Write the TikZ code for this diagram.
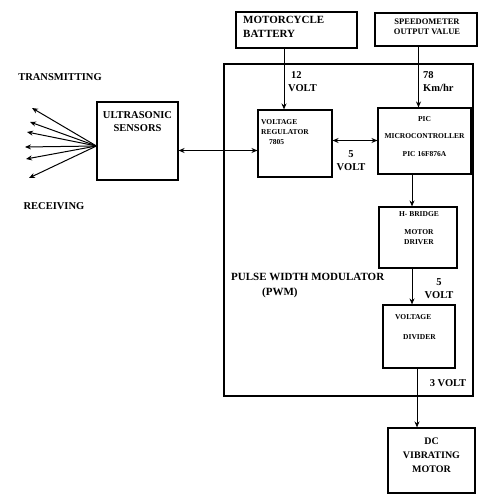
\documentclass[tikz,border=0pt]{standalone}
\usepackage{fontspec}
\setmainfont{Liberation Serif}
\usetikzlibrary{arrows.meta}

\begin{document}
\begin{tikzpicture}[x=1pt,y=-1pt,
		blk/.style={draw,line width=1.1pt,inner sep=0pt},
		arr/.style={-{Stealth[length=6pt,width=5pt]},line width=1pt},
		biarr/.style={{Stealth[length=6pt,width=5pt]}-{Stealth[length=6pt,width=5pt]},line width=1pt},
		tiny/.style={font=\bfseries\fontsize{7.5}{10}\selectfont,inner sep=0pt},
		mid/.style={font=\bfseries\fontsize{8.5}{10}\selectfont,inner sep=0pt},
		big/.style={font=\bfseries\fontsize{10.5}{13}\selectfont,inner sep=0pt}]
	\useasboundingbox (0,0) rectangle (480,497);

	% outer PWM frame
	\draw[line width=1.1pt] (224,64) rectangle (473,396);

	% blocks
	\node[blk,minimum width=121pt,minimum height=36pt] (batt) at (296.5,30) {};
	\node[blk,minimum width=102pt,minimum height=33pt] (speed) at (426,29.5) {};
	\node[blk,minimum width=81pt,minimum height=78pt] (us) at (137.5,141) {};
	\node[blk,minimum width=74pt,minimum height=67pt] (vr) at (295,143.5) {};
	\node[blk,minimum width=93pt,minimum height=66pt] (pic) at (424.5,141) {};
	\node[blk,minimum width=78pt,minimum height=61pt] (hb) at (418,237.5) {};
	\node[blk,minimum width=72pt,minimum height=63pt] (vd) at (419,336.5) {};
	\node[blk,minimum width=87pt,minimum height=65pt] (dc) at (431.5,460.5) {};

	% block texts
	\node[big,align=left,anchor=north west,font=\bfseries\fontsize{11}{14}\selectfont] (battt) at (243,16) {MOTORCYCLE\\BATTERY};
	\node[mid,align=center] (speedt) at (427,27) {SPEEDOMETER\\OUTPUT VALUE};
	\node[big,align=center,anchor=north] (ust) at (137.5,111) {ULTRASONIC\\SENSORS};
	\node[tiny,align=left,anchor=north west] (vrt) at (261,119) {VOLTAGE\\REGULATOR\\\hspace*{8pt}7805};
	\node[tiny,align=center,anchor=north] (pict) at (424.5,116) {PIC\\[7pt]MICROCONTROLLER\\[8pt]PIC 16F876A};
	\node[tiny,align=center,anchor=north] (hbt) at (419,211) {H- BRIDGE\\[8pt]MOTOR\\DRIVER};
	\node[tiny,align=left,anchor=north west] (vdt) at (395,314) {VOLTAGE\\[10pt]\hspace*{8pt}DIVIDER};
	\node[font=\bfseries\fontsize{10}{14}\selectfont,inner sep=0pt,align=center] (dct) at (431.5,455) {DC\\VIBRATING\\MOTOR};

	% connections
	\draw[arr] ([xshift=-11pt]vr.north |- batt.south) -- ([xshift=-11pt]vr.north);
	\draw[arr] ([xshift=-6pt]pic.north |- speed.south) -- ([xshift=-6pt]pic.north);
	\draw[biarr] ([yshift=3pt]vr.east) -- ([yshift=3pt]vr.east -| pic.west);
	\draw[biarr] ([yshift=-7pt]vr.west -| us.east) -- ([yshift=-7pt]vr.west);
	\draw[arr] ([xshift=-6pt]hb.north |- pic.south) -- ([xshift=-6pt]hb.north);
	\draw[arr] ([xshift=-6pt]hb.south) -- ([xshift=-6pt]hb.south |- vd.north);
	\draw[arr] ([xshift=-2pt]vd.south) -- ([xshift=-2pt]vd.south |- dc.north);

	% sensor beams
	\coordinate (fan) at ([yshift=-5pt]us.west);
	\foreach \i/\x/\y in {1/32/108, 2/30/122, 3/27/132, 4/25/147, 5/26/159, 6/29/178}{
		\coordinate (ray\i) at (\x,\y);
		\draw[arr] (fan) -- (ray\i);
	}

	% labels
	\node[big] (tx) at (60,77) {TRANSMITTING};
	\node[big] (rx) at (54,206) {RECEIVING};
	\node[big,align=left,anchor=west] (v12) at (288,82) {\hspace*{3pt}12\\VOLT};
	\node[big,align=left,anchor=west] (kmh) at (423,82) {78\\Km/hr};
	\node[big,align=center] (v5a) at (351,161) {5\\VOLT};
	\node[big,align=center] (v5b) at (439,289) {5\\VOLT};
	\node[big] (v3) at (448,383) {3 VOLT};
	\node[big,align=left,anchor=north west,font=\bfseries\fontsize{11}{15}\selectfont] (pwm) at (231,273) {PULSE WIDTH MODULATOR\\\hspace*{31pt}(PWM)};
\end{tikzpicture}
\end{document}
